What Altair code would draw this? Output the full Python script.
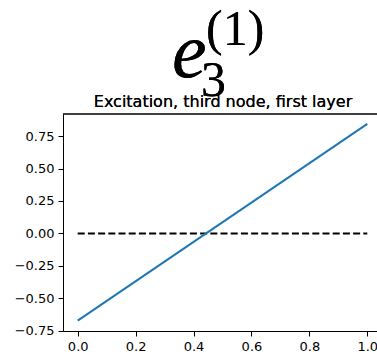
import altair as alt
import pandas as pd

# Data
x_vals = [0.0, 1.0]
excitation = [-0.673, 0.845]
zero_line = [0.0, 0.0]
x_ticks = [0.0, 0.2, 0.4, 0.6, 0.8, 1.0]
y_ticks = [-0.75, -0.5, -0.25, 0.0, 0.25, 0.5, 0.75]
title_text = "Excitation, third node, first layer"

W, H = 314, 217
PAD_L, PAD_T = 63, 114

line_df = pd.DataFrame({"x": x_vals, "y": excitation})
zero_df = pd.DataFrame({"x": x_vals, "y": zero_line})

xscale = alt.Scale(domain=[-0.0508, 1.0335], nice=False, zero=False)
yscale = alt.Scale(domain=[-0.753, 0.921], nice=False, zero=False)

common_axis = dict(title=None, grid=False, tickSize=5, labelPadding=4,
                   domainColor="black", tickColor="black", labelColor="black",
                   labelFont="DejaVu Sans", labelFontSize=13,
                   labelOverlap=False, labelFlush=False,
                   labelExpr="replace(datum.label, '-', '\u2212')",
                   domainWidth=1, tickWidth=1)
xaxis = alt.Axis(values=x_ticks, format=".1f", **common_axis)
yaxis = alt.Axis(values=y_ticks, format=".2f", **common_axis)

zero = alt.Chart(zero_df).mark_line(color="black", strokeWidth=2, strokeDash=[7, 3.2]).encode(
    x=alt.X("x:Q", scale=xscale, axis=xaxis),
    y=alt.Y("y:Q", scale=yscale, axis=yaxis),
)

line = alt.Chart(line_df).mark_line(color="#1f77b4", strokeWidth=2).encode(
    x=alt.X("x:Q", scale=xscale, axis=xaxis),
    y=alt.Y("y:Q", scale=yscale, axis=yaxis),
)

top_spine = alt.Chart(line_df).mark_rule(color="black", strokeWidth=1).encode(
    x=alt.value(0), x2=alt.value(W), y=alt.value(0)
)

title = alt.Chart(line_df).mark_text(
    text=title_text, font="DejaVu Sans", fontSize=16, color="black",
    align="center", baseline="alphabetic"
).encode(x=alt.value(160), y=alt.value(-7.5))

e_main = alt.Chart(line_df).mark_text(
    text="e", font="Liberation Serif", fontStyle="italic", fontSize=78, color="black",
    align="left", baseline="alphabetic"
).encode(x=alt.value(109), y=alt.value(-37.5))

e_sub = alt.Chart(line_df).mark_text(
    text="3", font="Liberation Serif", fontSize=50, color="black",
    align="left", baseline="alphabetic"
).encode(x=alt.value(138), y=alt.value(-18.5))

e_sup = alt.Chart(line_df).mark_text(
    text="(1)", font="Liberation Serif", fontSize=50, color="black",
    align="left", baseline="alphabetic"
).encode(x=alt.value(143), y=alt.value(-69))

chart = alt.layer(zero, line, top_spine, title, e_main, e_sub, e_sup).properties(
    width=W, height=H,
    autosize=alt.AutoSizeParams(type="none"),
    padding={"left": PAD_L, "top": PAD_T, "right": 0, "bottom": 24},
    background="white",
).configure_view(stroke=None)

chart.save("out.html", embed_options={"renderer": "svg", "actions": False})
